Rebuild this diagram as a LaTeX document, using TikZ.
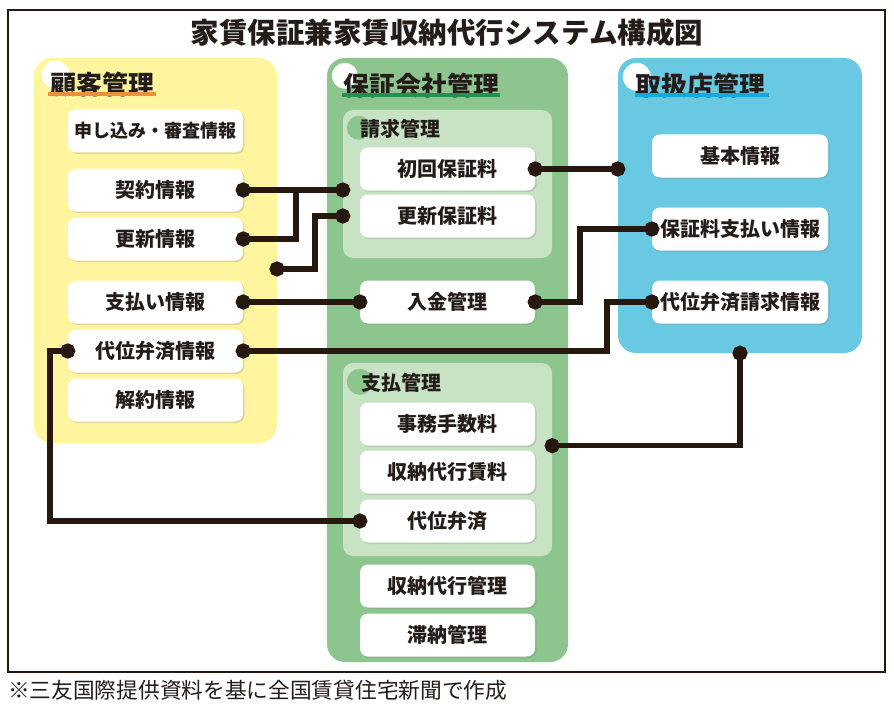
\documentclass[tikz,border=0pt]{standalone}
\usepackage{fontspec}
\setmainfont{Noto Sans CJK JP}
\usepackage{xcolor}
\usetikzlibrary{arrows.meta,shadows}
\definecolor{customer}{RGB}{255,245,158}
\definecolor{guarantor}{RGB}{140,197,142}
\definecolor{billing}{RGB}{199,227,196}
\definecolor{agency}{RGB}{106,201,226}
\definecolor{customer_line}{RGB}{230,145,60}
\definecolor{guarantor_line}{RGB}{35,145,80}
\definecolor{agency_line}{RGB}{20,170,225}
\definecolor{wire}{RGB}{38,24,14}
\definecolor{ink}{RGB}{35,28,24}

\tikzset{
  panel/.style={rounded corners=18pt, inner sep=0pt},
  subpanel/.style={fill=billing, rounded corners=10pt, inner sep=0pt,
    minimum width=209pt},
  head/.style={anchor=west, inner sep=0pt, text=ink,
    font=\fontsize{26pt}{30pt}\selectfont\bfseries},
  subhead/.style={anchor=west, inner sep=0pt, text=ink,
    font=\fontsize{20pt}{24pt}\selectfont\bfseries},
  item/.style={fill=white, rounded corners=8pt, minimum width=175pt,
    minimum height=43pt, inner sep=0pt, text=ink,
    font=\fontsize{20pt}{24pt}\selectfont\bfseries,
    drop shadow={opacity=0.25, shadow xshift=1.5pt, shadow yshift=-1.5pt}},
  wire/.style={draw=wire, line width=5.5pt},
  pins/.style={{Circle[length=15pt]}-{Circle[length=15pt]},
    shorten <=-7.5pt, shorten >=-7.5pt},
  pinstart/.style={{Circle[length=15pt]}-, shorten <=-7.5pt}
}

\begin{document}
\begin{tikzpicture}[x=1pt, y=-1pt]
  \useasboundingbox (0,0) rectangle (894,706);
  \fill[white] (0,0) rectangle (894,706);
  \draw[wire, line width=2.5pt] (8,10) rectangle (885,672);

  \node[text=ink, inner sep=0pt, font=\fontsize{28.5pt}{32pt}\selectfont\bfseries]
    (title) at (447,33) {家賃保証兼家賃収納代行システム構成図};
  \node[anchor=west, text=ink, inner sep=0pt, font=\fontsize{21.7pt}{26pt}\selectfont]
    (note) at (8,690) {※三友国際提供資料を基に全国賃貸住宅新聞で作成};

  % columns
  \node[panel, fill=customer, minimum width=243pt, minimum height=385pt]
    (cust) at (155.5,250.5) {};
  \node[panel, fill=guarantor, minimum width=241pt, minimum height=604pt]
    (guar) at (447.5,360) {};
  \node[panel, fill=agency, minimum width=244pt, minimum height=295pt]
    (agen) at (740,205.5) {};
  \node[subpanel, minimum height=148pt] (billbox) at (447.5,184) {};
  \node[subpanel, minimum height=193pt] (paybox) at (447.5,459.5) {};

  % headings
  \fill[white] ([shift={(22,17)}]cust.north west) circle (14pt);
  \fill[white] ([shift={(18,18)}]guar.north west) circle (13pt);
  \fill[white] ([shift={(19,19)}]agen.north west) circle (14pt);
  \fill[guarantor] ([shift={(16,18)}]billbox.north west) circle (12pt);
  \fill[guarantor] ([shift={(17,19)}]paybox.north west) circle (13pt);
  \node[head] (hcust) at ([shift={(16,27)}]cust.north west) {顧客管理};
  \node[head] (hguar) at ([shift={(16,28)}]guar.north west) {保証会社管理};
  \node[head] (hagen) at ([shift={(17,28)}]agen.north west) {取扱店管理};
  \draw[customer_line, line width=4pt] ([shift={(-2,-4)}]hcust.south west) -- ([shift={(2,-4)}]hcust.south east);
  \draw[guarantor_line, line width=4pt] ([shift={(-1,-4)}]hguar.south west) -- ([shift={(1,-4)}]hguar.south east);
  \draw[agency_line, line width=4pt] ([shift={(0,-4)}]hagen.south west) -- ([shift={(4,-4)}]hagen.south east);
  \node[subhead] (hbill) at ([shift={(17,19)}]billbox.north west) {請求管理};
  \node[subhead] (hpay) at ([shift={(18,20)}]paybox.north west) {支払管理};

  % customer items
  \node[item, font=\fontsize{18pt}{22pt}\selectfont\bfseries] (apply) at (155.5,131) {申し込み・審査情報};
  \node[item] (contract) at (155.5,190) {契約情報};
  \node[item] (renewal) at (155.5,239) {更新情報};
  \node[item] (payinfo) at (155.5,302) {支払い情報};
  \node[item] (subro) at (155.5,351) {代位弁済情報};
  \node[item] (cancel) at (155.5,400) {解約情報};

  % guarantor items
  \node[item] (first) at (447.5,169) {初回保証料};
  \node[item] (renew) at (447.5,216) {更新保証料};
  \node[item] (deposit) at (447.5,302) {入金管理};
  \node[item] (fee) at (447.5,424) {事務手数料};
  \node[item] (rentfee) at (447.5,472) {収納代行賃料};
  \node[item] (subpay) at (447.5,521) {代位弁済};
  \node[item] (collect) at (447.5,586) {収納代行管理};
  \node[item] (arrears) at (447.5,635) {滞納管理};

  % agency items
  \node[item, minimum width=176pt] (basic) at (740,156) {基本情報};
  \node[item, minimum width=176pt] (feepay) at (740,229) {保証料支払い情報};
  \node[item, minimum width=176pt] (subclaim) at (740,302) {代位弁済請求情報};

  % links
  \coordinate (loose) at (277,269);
  \draw[wire, pins] (contract.east) -- (contract.east -| billbox.west);
  \draw[wire, pinstart] (renewal.east) -| ([xshift=53pt]contract.east);
  \draw[wire, pins] (loose) -- ++(38,0) |- (billbox.west |- renew);
  \draw[wire, pins] (payinfo.east) -- (deposit.west);
  \draw[wire, pins] (first.east) -- (first.east -| agen.west);
  \draw[wire, pins] (deposit.east) -- ++(45,0) |- (feepay.west);
  \draw[wire, pins] (subro.east) -| ([xshift=-45pt]subclaim.west) -- (subclaim.west);
  \draw[wire, pins] (subro.west) -- ++(-18,0) |- (subpay.west);
  \draw[wire, pins] (paybox.east |- fee.south) -| (agen.south);
\end{tikzpicture}
\end{document}
